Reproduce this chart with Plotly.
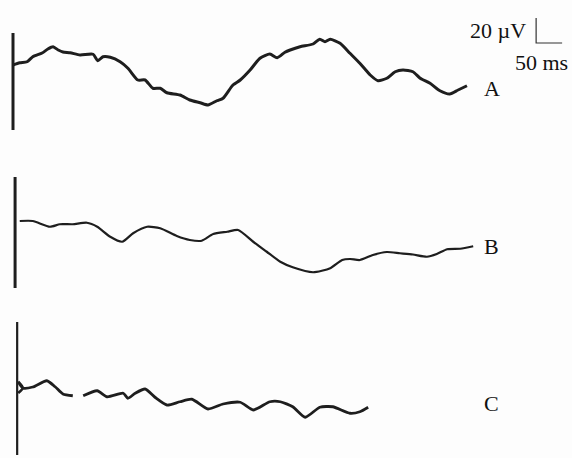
import plotly.graph_objects as go

# ---- data (time in ms, amplitude in µV relative to each trace's baseline) ----
a_time = [0, 13, 27, 38, 56, 67, 77, 87, 96, 110, 129, 154, 163, 173, 187, 206, 221, 240, 254, 269,
          283, 296, 321, 340, 360, 375, 392, 404, 423, 437, 456, 475, 494, 508, 523, 533, 552, 577, 590, 600,
          610, 629, 648, 667, 687, 702, 719, 735, 750, 769, 783, 802, 821, 840, 856, 873]
a_uv = [0, 1.8, 2.6, 6.6, 9.6, 12.8, 14.6, 12, 10.4, 9.8, 8, 8.6, 3.4, 6.6, 6.2, 2.6, -2.6, -12, -12, -18.6,
        -18.6, -22.2, -24, -28, -30.2, -32, -28.6, -26.6, -16, -12, -4, 5.4, 8.8, 5.8, 10.2, 12, 14.6, 16.8, 20.6, 18.6,
        20.6, 17.4, 9.4, 1.4, -8, -12.6, -10.6, -5.4, -4, -5.4, -10.6, -14.6, -20.6, -23.2, -20, -16.6]

b_time = [13, 38, 71, 90, 115, 142, 162, 187, 210, 231, 258, 283, 315, 340, 363, 385, 412, 433, 462, 488,
          514, 538, 577, 610, 633, 648, 667, 692, 719, 744, 769, 796, 815, 835, 860, 885]
b_uv = [0, 0, -4.6, -2.6, -2.6, -1.4, -4.6, -12.6, -16.6, -9.8, -4.6, -5.8, -12, -15.2, -15.8, -10.4, -8.6, -7.2, -16.6, -24.6,
        -32.6, -37, -41, -37.8, -31.2, -30.4, -31.2, -27.2, -24.8, -25.8, -26.8, -28.6, -26.4, -22.6, -22.2, -20.2]

c_time = [10, 19, 10, 19, 38, 65, 81, 96, 115, None, 135, 162, 181, 212, 221, 235, 254, 273, 296, 321,
          344, 375, 404, 437, 462, 494, 514, 538, 562, 590, 615, 648, 667, 683]
c_uv = [-4, 0, 5, 0, 0.8, 5.8, 1, -4.8, -6.2, None, -6.2, -2.2, -7, -4.2, -8.2, -4.2, -0.8, -7.4, -13.6, -11,
        -9, -16.8, -12.8, -11.4, -17.6, -11, -11, -15, -23.4, -15.4, -15, -20.2, -19, -15.4]

trace_names = ["A", "B", "C"]
stim_time = [0, 4, 8]            # ms, stimulus marker per trace
stim_top = [25.6, 35.2, 52.8]    # µV above baseline
stim_bottom = [-52, -53.6, -53.6]

scale_uv = 20
scale_ms = 50

# ---- layout constants ----
baselines = [314.4, 189.6, 56.0]
label_y = [296, 169.2, 44]
label_t = 921
series = [(a_time, a_uv, 3.0), (b_time, b_uv, 2.2), (c_time, c_uv, 2.8)]
ink = "#1e1e1e"
serif = "Liberation Serif"

fig = go.Figure()
for i, (t, v, w) in enumerate(series):
    yy = [None if u is None else u + baselines[i] for u in v]
    fig.add_trace(go.Scatter(x=t, y=yy, mode="lines",
                             line=dict(color=ink, width=w, shape="spline", smoothing=0.6),
                             hoverinfo="skip", showlegend=False, connectgaps=False))
    # stimulus marker
    fig.add_trace(go.Scatter(x=[stim_time[i], stim_time[i]],
                             y=[baselines[i] + stim_top[i], baselines[i] + stim_bottom[i]],
                             mode="lines", line=dict(color=ink, width=3 if i < 2 else 2.2),
                             hoverinfo="skip", showlegend=False))
    fig.add_annotation(x=label_t, y=label_y[i], text=trace_names[i], showarrow=False,
                       xanchor="center", yanchor="middle",
                       font=dict(family=serif, size=22, color="#111"))

# scale bar
corner_t, corner_y = 1006, 332
fig.add_trace(go.Scatter(x=[corner_t, corner_t, corner_t + scale_ms],
                         y=[corner_y + scale_uv, corner_y, corner_y],
                         mode="lines", line=dict(color="#333", width=1.2),
                         hoverinfo="skip", showlegend=False))
fig.add_annotation(x=990, y=342.4, text=f"{scale_uv} µV", showarrow=False,
                   xanchor="right", yanchor="middle",
                   font=dict(family=serif, size=22, color="#111"))
fig.add_annotation(x=1017, y=316.8, text=f"{scale_ms} ms", showarrow=False,
                   xanchor="center", yanchor="middle",
                   font=dict(family=serif, size=22, color="#111"))

fig.update_layout(width=572, height=458, margin=dict(l=0, r=0, t=0, b=0),
                  paper_bgcolor="#fdfdfd", plot_bgcolor="#fdfdfd",
                  xaxis=dict(range=[-25, 1075], visible=False, fixedrange=True),
                  yaxis=dict(range=[0, 366.4], visible=False, fixedrange=True))

fig.write_html("out.html", config={"displayModeBar": False},
               post_script="document.body.style.margin='0';document.body.style.overflow='hidden';")
